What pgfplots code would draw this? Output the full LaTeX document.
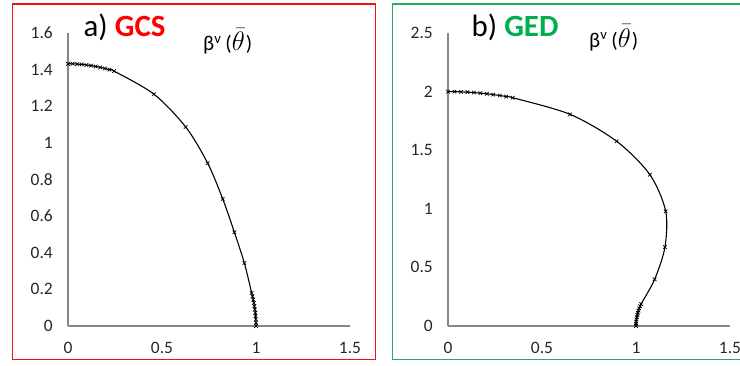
\documentclass[border=0pt]{standalone}
\usepackage{pgfplots}
\pgfplotsset{compat=1.18}
\usepackage{fontspec}
\setmainfont{Carlito}

\definecolor{gcsred}{RGB}{255,0,0}
\definecolor{gedgreen}{RGB}{0,176,80}
\definecolor{axgray}{RGB}{134,134,134}
\definecolor{framered}{RGB}{230,20,20}
\definecolor{framegreen}{RGB}{40,170,90}

\newcommand{\betalabel}{β\textsuperscript{v}\hspace{4bp}(\scalebox{1.3}{$\bar{\theta}$}\hspace{1bp})}

\pgfplotsset{
  panel/.style={
    scale only axis,
    width=282bp, height=293bp,
    anchor=south west,
    xmin=0, xmax=1.5, ymin=0,
    axis x line=bottom, axis y line=left,
    axis line style={-, draw=axgray, line width=1.3bp},
    major tick length=0pt,
    xtick={0,0.5,1,1.5},
    /pgf/number format/assume math mode=true,
    tick label style={font=\fontsize{17.5}{20}\selectfont, text=black!85},
    yticklabel style={inner sep=0pt, anchor=east, xshift=-15bp},
    xticklabel style={inner sep=0pt, anchor=north, yshift=-16bp},
    clip=false,
  },
  curve/.style={black, line width=1.1bp, smooth, mark=x,
    mark size=2.5bp, mark options={line width=0.7bp}},
}

\begin{document}
\begin{tikzpicture}[x=1bp, y=1bp]
\useasboundingbox (0,0) rectangle (740,365);

% panel frames
\draw[framered, line width=1.5bp] (12.7,5.5) rectangle (375.7,361);
\draw[framegreen, line width=1.5bp] (392.3,5.5) rectangle (752,361);

% a) GCS
\begin{axis}[panel, at={(68bp,39bp)}, ymax=1.6,
  ytick={0,0.2,0.4,0.6,0.8,1,1.2,1.4,1.6}]
\addplot[curve] coordinates {
  (0,1.432) (0.0245,1.4316) (0.049,1.4304) (0.0735,1.4284) (0.098,1.4256)
  (0.1225,1.4220) (0.147,1.4176) (0.1715,1.4124) (0.196,1.4064)
  (0.2205,1.3996) (0.245,1.392)
  (0.457,1.266) (0.626,1.087) (0.743,0.889) (0.823,0.694) (0.885,0.512)
  (0.938,0.344)
  (0.977,0.18) (0.9816,0.162) (0.9855,0.144) (0.9889,0.126) (0.9918,0.108)
  (0.9943,0.09) (0.9964,0.072) (0.998,0.054) (0.9991,0.036) (0.9998,0.018)
  (1,0)
};
\end{axis}

% b) GED
\begin{axis}[panel, at={(448bp,39bp)}, ymax=2.5,
  ytick={0,0.5,1,1.5,2,2.5}]
\addplot[curve] coordinates {
  (0,2.0) (0.0344,1.9995) (0.0688,1.9979) (0.1032,1.9953) (0.1376,1.9917)
  (0.172,1.9870) (0.2064,1.9813) (0.2408,1.9745) (0.2752,1.9667)
  (0.3096,1.9578) (0.344,1.9479)
  (0.649,1.806) (0.897,1.576) (1.074,1.291) (1.158,0.979) (1.154,0.674)
  (1.099,0.398)
  (1.0269,0.188) (1.0217,0.169) (1.0171,0.150) (1.0132,0.132) (1.0097,0.113)
  (1.0067,0.094) (1.0043,0.075) (1.0024,0.056) (1.0011,0.038) (1.0003,0.019)
  (1,0)
};
\end{axis}

% panel titles
\node[anchor=base west, inner sep=0pt, font=\fontsize{31}{36}\selectfont]
  at (83.5,328.5) {a) \textcolor{gcsred}{\bfseries GCS}};
\node[anchor=base west, inner sep=0pt, font=\fontsize{31}{36}\selectfont]
  at (471.5,328.5) {b) \textcolor{gedgreen}{\bfseries GED}};
\node[anchor=base west, inner sep=0pt, font=\fontsize{21}{25}\selectfont]
  at (203,314.5) {\betalabel};
\node[anchor=base west, inner sep=0pt, font=\fontsize{21}{25}\selectfont]
  at (589,318) {\betalabel};
\end{tikzpicture}
\end{document}
